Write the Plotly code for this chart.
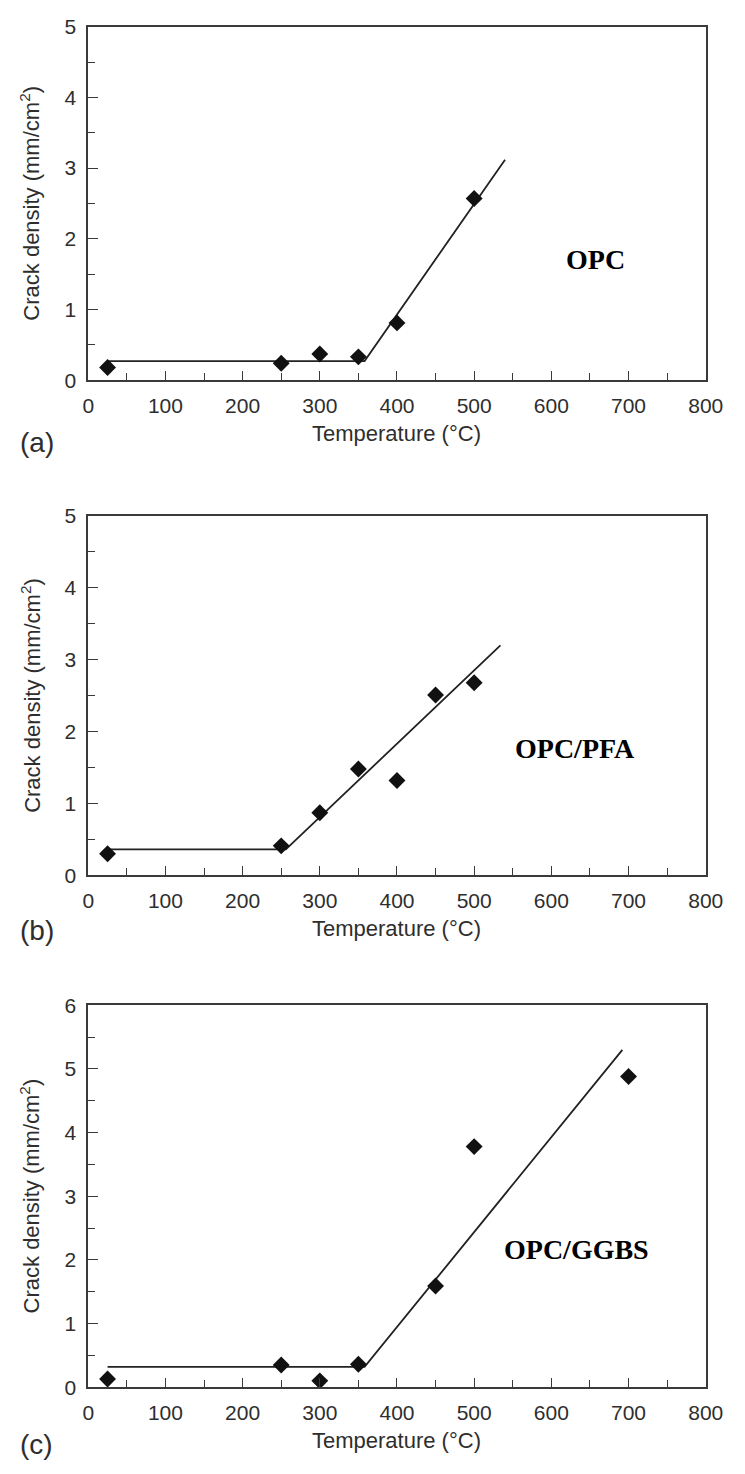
import plotly.graph_objects as go

# ---- data ----
temp_a = [25, 250, 300, 350, 400, 500]
dens_a = [0.18, 0.24, 0.37, 0.33, 0.81, 2.57]
fit_a_x = [25, 358, 540]
fit_a_y = [0.27, 0.27, 3.12]

temp_b = [25, 250, 300, 350, 400, 450, 500]
dens_b = [0.30, 0.41, 0.87, 1.48, 1.32, 2.51, 2.68]
fit_b_x = [25, 256, 534]
fit_b_y = [0.36, 0.36, 3.20]

temp_c = [25, 250, 300, 350, 450, 500, 700]
dens_c = [0.13, 0.35, 0.10, 0.36, 1.59, 3.78, 4.88]
fit_c_x = [25, 358, 692]
fit_c_y = [0.32, 0.32, 5.30]

panel_names = ["OPC", "OPC/PFA", "OPC/GGBS"]
name_x = [657, 630, 632]
name_y = [1.71, 1.77, 2.16]
panel_tags = ["(a)", "(b)", "(c)"]
y_max = [5, 5, 6]

x_title = "Temperature (\u00b0C)"
y_title = "Crack density (mm/cm<sup>2</sup>)"

# ---- layout geometry (pixels) ----
W, H = 745, 1474
left_px, right_px = 85, 723
panels_px = [(15, 374), (512, 877), (1009, 1397)]
tag_y_px = [437, 933, 1455]

def py(p):
    return 1 - p / H

fig = go.Figure()

series = [(temp_a, dens_a, fit_a_x, fit_a_y),
          (temp_b, dens_b, fit_b_x, fit_b_y),
          (temp_c, dens_c, fit_c_x, fit_c_y)]

axis_col = "#3a3a3a"
text_col = "#2e2e2e"
font_sans = "Liberation Sans, Arial, sans-serif"

for i, (tx, ty, fx, fy) in enumerate(series):
    xa = "x" if i == 0 else f"x{i+1}"
    ya = "y" if i == 0 else f"y{i+1}"
    fig.add_trace(go.Scatter(x=fx, y=fy, mode="lines", xaxis=xa, yaxis=ya,
                             line=dict(color="#222222", width=1.8),
                             showlegend=False, hoverinfo="skip"))
    fig.add_trace(go.Scatter(x=tx, y=ty, mode="markers", xaxis=xa, yaxis=ya,
                             marker=dict(symbol="diamond", size=13, color="#111111",
                                         line=dict(width=0)),
                             showlegend=False))
    top, bot = panels_px[i]
    xkey = "xaxis" if i == 0 else f"xaxis{i+1}"
    ykey = "yaxis" if i == 0 else f"yaxis{i+1}"
    fig.layout[xkey] = dict(
        domain=[left_px / W, right_px / W], anchor=ya, range=[0, 800],
        tickmode="linear", tick0=0, dtick=100, ticks="inside", ticklen=9,
        tickwidth=1.4, tickcolor=axis_col,
        minor=dict(tickmode="linear", tick0=0, dtick=50, ticks="inside",
                   ticklen=7, tickwidth=1.4, tickcolor=axis_col, showgrid=False),
        showline=True, linecolor=axis_col, linewidth=1.8, mirror=True,
        showgrid=False, zeroline=False,
        tickfont=dict(family=font_sans, size=21, color=text_col),
        ticklabelstandoff=6, fixedrange=True)
    fig.layout[ykey] = dict(
        domain=[py(bot), py(top)], anchor=xa, range=[0, y_max[i]],
        tickmode="linear", tick0=0, dtick=1, ticks="inside", ticklen=10,
        tickwidth=1.4, tickcolor=axis_col,
        minor=dict(tickmode="linear", tick0=0, dtick=0.5, ticks="inside",
                   ticklen=7, tickwidth=1.4, tickcolor=axis_col, showgrid=False),
        showline=True, linecolor=axis_col, linewidth=1.8, mirror=True,
        showgrid=False, zeroline=False,
        tickfont=dict(family=font_sans, size=21, color=text_col),
        ticklabelstandoff=6, fixedrange=True)

    # x-axis title
    fig.add_annotation(x=(left_px + right_px) / 2 / W, y=py(bot + 54),
                       xref="paper", yref="paper", text=x_title, showarrow=False,
                       xanchor="center", yanchor="middle",
                       font=dict(family=font_sans, size=22, color=text_col))
    # y-axis title
    fig.add_annotation(x=25 / W, y=py((top + bot) / 2), xref="paper", yref="paper",
                       text=y_title, showarrow=False, textangle=-90,
                       xanchor="center", yanchor="middle",
                       font=dict(family=font_sans, size=22, color=text_col))
    # panel tag
    fig.add_annotation(x=32 / W, y=py(tag_y_px[i]), xref="paper", yref="paper",
                       text=panel_tags[i], showarrow=False,
                       xanchor="center", yanchor="middle",
                       font=dict(family=font_sans, size=28, color=text_col))
    # material name
    fig.add_annotation(x=name_x[i], y=name_y[i], xref=xa, yref=ya,
                       text="<b>" + panel_names[i] + "</b>", showarrow=False,
                       xanchor="center", yanchor="middle",
                       font=dict(family="Liberation Serif, Times New Roman, serif",
                                 size=28, color="#000000"))

fig.update_layout(width=W, height=H, margin=dict(l=0, r=0, t=0, b=0),
                  paper_bgcolor="white", plot_bgcolor="white", showlegend=False)

fig.write_html("out.html")
